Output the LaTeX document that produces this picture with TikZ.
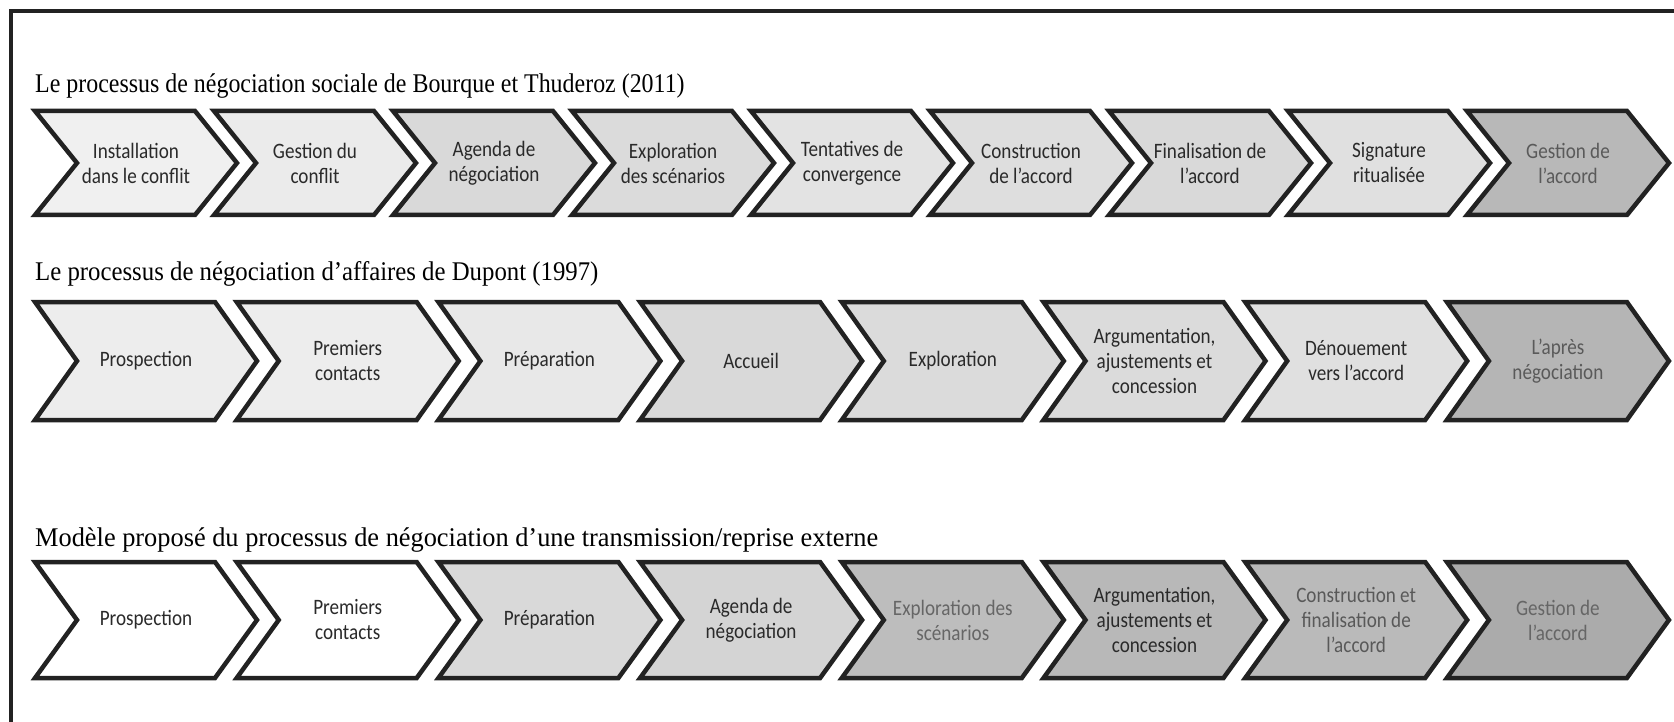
\documentclass[tikz,border=0pt]{standalone}
\usepackage{fontspec}
\usepackage{graphicx}
\newfontfamily\chevfont[FakeStretch=0.87]{Carlito}
\newfontfamily\titlefont{Liberation Serif}
\definecolor{edge}{HTML}{222222}
\definecolor{txt}{HTML}{2A2A2A}
\definecolor{txtg}{HTML}{5A5A5A}
\tikzset{
  chevline/.style={draw=edge, line width=4.5pt, line join=miter},
  chevtext/.style={align=center, inner sep=0pt, text=#1,
    font=\chevfont\fontsize{22}{25}\selectfont},
  ttl/.style={anchor=base west, inner sep=0pt, text=black,
    font=\titlefont\fontsize{27}{30}\selectfont},
  framel/.style={draw=edge, line width=3.5pt}
}
% name, x0, yc, w, d, half height, fill, text colour, text
\newcommand\chv[9]{%
  \path[chevline,fill=#7] (#2,#3-#6) -- ++(#4,0) -- ++(#5,#6) -- ++(-#5,#6)
    -- ++(-#4,0) -- ++(#5,-#6) -- cycle;
  \node[chevtext=#8] (#1) at ({#2+(#4+#5)/2},#3) {#9};}
\newcommand\rA[5]{\chv{#1}{35+179*#2}{163}{160}{42}{52}{#3}{#4}{#5}}
\newcommand\rB[5]{\chv{#1}{35+201.7*#2}{361}{180}{42}{59}{#3}{#4}{#5}}
\newcommand\rC[5]{\chv{#1}{35+201.7*#2}{620}{180}{42}{58}{#3}{#4}{#5}}
\begin{document}
\begin{tikzpicture}[x=1pt,y=-1pt]
\useasboundingbox (0,0) rectangle (1674,722);
% frame
\coordinate (fa) at (11,722);
\coordinate (fb) at (11,11);
\coordinate (fc) at (1674,11);
\draw[framel] (fa) -- (fb) -- (fc);
% titles
\node[ttl] (t1) at (35,93) {\scalebox{0.886}[1]{Le processus de négociation sociale de Bourque et Thuderoz (2011)}};
\node[ttl] (t2) at (35,280) {\scalebox{0.918}[1]{Le processus de négociation d’affaires de Dupont (1997)}};
\node[ttl] (t3) at (35,546) {\scalebox{0.976}[1]{Modèle proposé du processus de négociation d’une transmission/reprise externe}};
% row 1
\rA{a1}{0}{black!6}{txt}{Installation\\dans le conflit}
\rA{a2}{1}{black!8}{txt}{Gestion du\\conflit}
\rA{a3}{2}{black!15}{txt}{Agenda de\\négociation}
\rA{a4}{3}{black!14}{txt}{Exploration\\des scénarios}
\rA{a5}{4}{black!11}{txt}{Tentatives de\\convergence}
\rA{a6}{5}{black!13}{txt}{Construction\\de l’accord}
\rA{a7}{6}{black!15}{txt}{Finalisation de\\l’accord}
\rA{a8}{7}{black!12}{txt}{Signature\\ritualisée}
\rA{a9}{8}{black!28}{txtg}{Gestion de\\l’accord}
% row 2
\rB{b1}{0}{black!7}{txt}{Prospection}
\rB{b2}{1}{black!7}{txt}{Premiers\\contacts}
\rB{b3}{2}{black!9}{txt}{Préparation}
\rB{b4}{3}{black!15}{txt}{Accueil}
\rB{b5}{4}{black!14}{txt}{Exploration}
\rB{b6}{5}{black!14}{txt}{Argumentation,\\ajustements et\\concession}
\rB{b7}{6}{black!12}{txt}{Dénouement\\vers l’accord}
\rB{b8}{7}{black!29}{txtg}{L’après\\négociation}
% row 3
\rC{c1}{0}{white}{txt}{Prospection}
\rC{c2}{1}{white}{txt}{Premiers\\contacts}
\rC{c3}{2}{black!15}{txt}{Préparation}
\rC{c4}{3}{black!17}{txt}{Agenda de\\négociation}
\rC{c5}{4}{black!26}{black!60}{Exploration des\\scénarios}
\rC{c6}{5}{black!28}{txt}{Argumentation,\\ajustements et\\concession}
\rC{c7}{6}{black!27}{black!65}{Construction et\\finalisation de\\l’accord}
\rC{c8}{7}{black!33}{black!60}{Gestion de\\l’accord}
\end{tikzpicture}
\end{document}
